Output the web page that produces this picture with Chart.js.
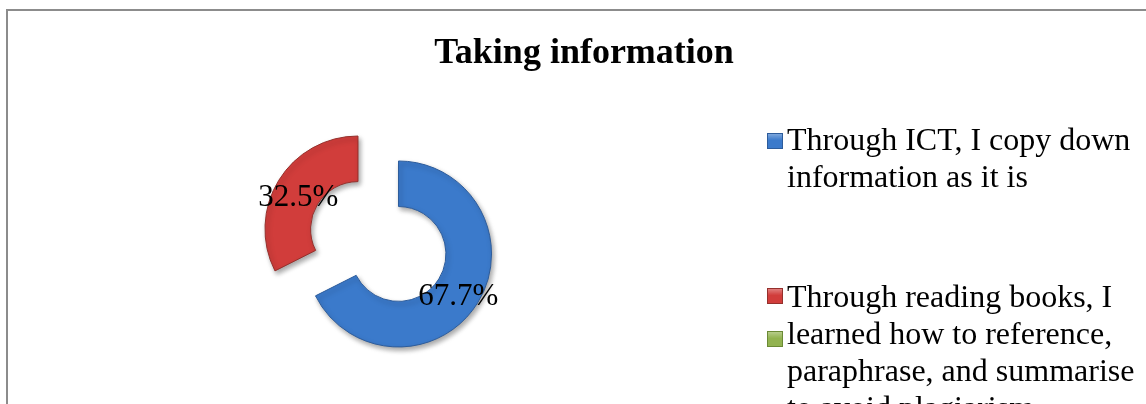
<!DOCTYPE html>
<html>
<head>
<meta charset="utf-8">
<title>Taking information</title>
<script src="https://cdn.jsdelivr.net/npm/chart.js@4"></script>
<style>
  html, body { margin: 0; padding: 0; background: #fff; }
  .page { position: relative; width: 1146px; height: 404px; overflow: hidden; font-family: 'Liberation Serif', 'Times New Roman', serif; }
  .frame { position: absolute; left: 6px; top: 9px; width: 1200px; height: 500px; border: 2px solid #8c8c8c; }
  .title { position: absolute; left: 0; top: 31px; width: 1168px; text-align: center; font-weight: bold; font-size: 36px; line-height: 40px; color: #000; }
  .chart-box { position: absolute; left: 0; top: 0; width: 1146px; height: 404px; }
  .legend-item { position: absolute; left: 767px; width: 370px; }
  .legend-box { position: absolute; left: 0; width: 14px; height: 14px; border: 1px solid #555; }
  .legend-text { position: absolute; left: 20px; width: 365px; font-size: 32px; line-height: 37px; color: #000; }
</style>
</head>
<body>
<div class="page">
  <div class="frame"></div>
  <div class="chart-box"><canvas id="donut" width="1146" height="404"></canvas></div>
  <div class="title" id="title"></div>
  <div id="legend"></div>
</div>
<script>
const chartTitle = 'Taking information';
const categories = [
  'Through ICT, I copy down information as it is',
  'Through reading books, I learned how to reference, paraphrase, and summarise to avoid plagiarism',
  ''
];
const percentValues = [67.7, 32.5, 0];

const fillColors = ['#3b7acb', '#d13d3b', '#92b350'];
const edgeColors = ['#2d5c9b', '#95302c', '#6b8a35'];
// how far each slice is pulled out from the centre (px)
const explodeBy = [23.8, 23.8, 0];

// legend placement (box top / first text line top)
const legendBoxTops = [133, 288, 331];
const legendTextTops = [121, 278, 321];

document.getElementById('title').textContent = chartTitle;

// pull slices outward along their middle angle, keeping their radius
const explode = {
  id: 'explode',
  afterDatasetUpdate(chart, args) {
    args.meta.data.forEach((arc, i) => {
      const d = explodeBy[i] || 0;
      if (!d) return;
      const half = (arc.startAngle + arc.endAngle) / 2;
      arc.x += Math.cos(half) * d;
      arc.y += Math.sin(half) * d;
    });
  }
};

// percentage labels at the middle of each ring slice
const sliceLabels = {
  id: 'sliceLabels',
  afterDatasetsDraw(chart) {
    const ctx = chart.ctx;
    const meta = chart.getDatasetMeta(0);
    ctx.save();
    ctx.font = '31px "Liberation Serif", "Times New Roman", serif';
    ctx.fillStyle = '#000';
    ctx.textAlign = 'center';
    ctx.textBaseline = 'middle';
    meta.data.forEach((arc, i) => {
      const v = percentValues[i];
      if (!v) return;
      const p = arc.getCenterPoint();
      ctx.fillText(v.toFixed(1) + '%', p.x, p.y + 6);
    });
    ctx.restore();
  }
};

const softShadow = {
  id: 'softShadow',
  beforeDatasetsDraw(chart) {
    const ctx = chart.ctx;
    ctx.save();
    ctx.shadowColor = 'rgba(0,0,0,0.35)';
    ctx.shadowBlur = 5;
    ctx.shadowOffsetX = 2;
    ctx.shadowOffsetY = 3;
  },
  afterDatasetsDraw(chart) {
    chart.ctx.restore();
  }
};

const chart = new Chart(document.getElementById('donut'), {
  type: 'doughnut',
  data: {
    labels: categories,
    datasets: [{
      data: percentValues,
      backgroundColor: fillColors,
      borderColor: edgeColors,
      borderWidth: 1,
      hoverOffset: 0
    }]
  },
  options: {
    responsive: false,
    animation: false,
    radius: 93,
    cutout: '51%',
    layout: { padding: { left: 0, right: 389.5, top: 79, bottom: 0 } },
    plugins: {
      legend: { display: false },
      title: { display: false },
      tooltip: { enabled: false }
    }
  },
  plugins: [explode, softShadow, sliceLabels]
});

// legend built from the chart's own data
const legendEl = document.getElementById('legend');
chart.data.labels.forEach((label, i) => {
  const item = document.createElement('div');
  item.className = 'legend-item';
  item.style.top = '0px';
  const box = document.createElement('div');
  box.className = 'legend-box';
  box.style.top = legendBoxTops[i] + 'px';
  const c = chart.data.datasets[0].backgroundColor[i];
  box.style.background = 'linear-gradient(to bottom, ' + c + 'aa, ' + c + ' 45%, ' + c + ')';
  box.style.borderColor = chart.data.datasets[0].borderColor[i];
  const txt = document.createElement('div');
  txt.className = 'legend-text';
  txt.style.top = legendTextTops[i] + 'px';
  txt.textContent = label;
  item.appendChild(box);
  item.appendChild(txt);
  legendEl.appendChild(item);
});
</script>
</body>
</html>
